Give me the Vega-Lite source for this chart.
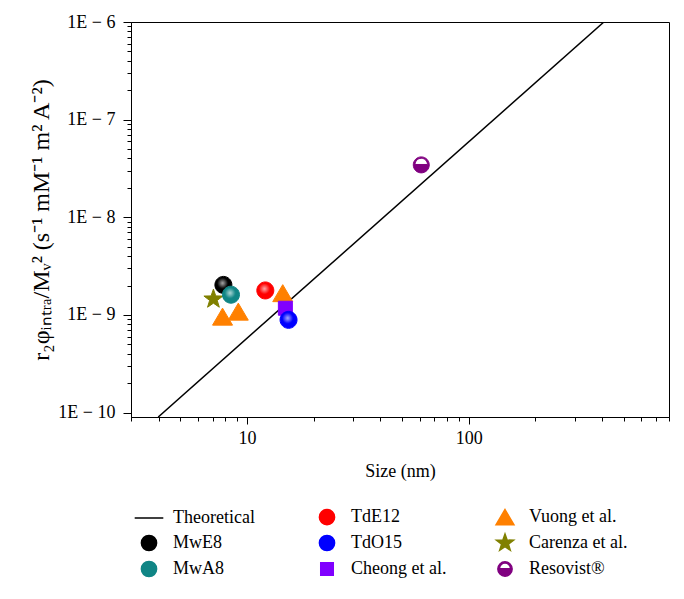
{
  "$schema": "https://vega.github.io/schema/vega-lite/v6.json",
  "width": 538,
  "height": 395,
  "autosize": {"type": "none"},
  "padding": {"left": 131, "top": 22, "right": 15, "bottom": 182},
  "background": "white",
  "config": {
    "view": {"stroke": "black", "strokeWidth": 1},
    "font": "Liberation Serif, Times New Roman, serif",
    "legend": {"labelFont": "Liberation Serif, Times New Roman, serif", "labelFontSize": 18, "labelColor": "black"}
  },
  "datasets": {
    "theory": [
      {"d": 3.98, "r": 9e-11},
      {"d": 407, "r": 1e-6}
    ],
    "points": [
      {"series": "Carenza et al.", "d": 7.06, "r": 1.45e-9},
      {"series": "MwE8", "d": 7.83, "r": 2.03e-9},
      {"series": "MwA8", "d": 8.47, "r": 1.61e-9},
      {"series": "Vuong et al.", "d": 7.76, "r": 9.6e-10},
      {"series": "Vuong et al.", "d": 9.14, "r": 1.08e-9},
      {"series": "Vuong et al.", "d": 14.5, "r": 1.67e-9},
      {"series": "TdE12", "d": 12.1, "r": 1.78e-9},
      {"series": "Cheong et al.", "d": 14.9, "r": 1.17e-9},
      {"series": "TdO15", "d": 15.4, "r": 8.9e-10},
      {"series": "Resovist®", "d": 61.1, "r": 3.44e-8}
    ]
  },
  "encoding": {
    "x": {
      "field": "d",
      "type": "quantitative",
      "scale": {"type": "log", "domain": [3, 800], "nice": false, "zero": false},
      "axis": {
        "title": "Size (nm)",
        "values": [3, 4, 5, 6, 7, 8, 9, 10, 20, 30, 40, 50, 60, 70, 80, 90, 100, 200, 300, 400, 500, 600, 700, 800],
        "labelExpr": "datum.value == 10 || datum.value == 100 ? datum.value + '' : ''",
        "tickSize": {"condition": {"test": "datum.value == 10 || datum.value == 100", "value": 7}, "value": 4},
        "grid": false,
        "labelOverlap": false,
        "labelFlush": false,
        "labelFont": "Liberation Serif, Times New Roman, serif",
        "labelFontSize": 18,
        "labelColor": "black",
        "labelPadding": 5,
        "titleFont": "Liberation Serif, Times New Roman, serif",
        "titleFontSize": 18,
        "titleFontWeight": "normal",
        "titleColor": "black",
        "titlePadding": 15,
        "domainColor": "black",
        "tickColor": "black"
      }
    },
    "y": {
      "field": "r",
      "type": "quantitative",
      "scale": {"type": "log", "domain": [9e-11, 1e-6], "nice": false, "zero": false},
      "axis": {
        "title": "r₂φᵢₙₜᵣₐ/Mᵥ² (s⁻¹ mM⁻¹ m² A⁻²)",
        "values": [1e-10, 2e-10, 3e-10, 4e-10, 5e-10, 6e-10, 7e-10, 8e-10, 9e-10, 1e-9, 2e-9, 3e-9, 4e-9, 5e-9, 6e-9, 7e-9, 8e-9, 9e-9, 1e-8, 2e-8, 3e-8, 4e-8, 5e-8, 6e-8, 7e-8, 8e-8, 9e-8, 1e-7, 2e-7, 3e-7, 4e-7, 5e-7, 6e-7, 7e-7, 8e-7, 9e-7, 1e-6],
        "labelExpr": "abs(log(datum.value)/LN10 - round(log(datum.value)/LN10)) < 0.0001 ? '1E − ' + round(-log(datum.value)/LN10) : ''",
        "tickSize": {"condition": {"test": "abs(log(datum.value)/LN10 - round(log(datum.value)/LN10)) < 0.0001", "value": 8}, "value": 4},
        "grid": false,
        "labelOverlap": false,
        "labelFlush": false,
        "labelFont": "Liberation Serif, Times New Roman, serif",
        "labelFontSize": 18,
        "labelColor": "black",
        "labelPadding": 8,
        "titleFont": "Liberation Serif, Times New Roman, serif",
        "titleFontSize": 24,
        "titleFontWeight": "normal",
        "titleColor": "black",
        "titlePadding": 4,
        "domainColor": "black",
        "tickColor": "black"
      }
    }
  },
  "layer": [
    {
      "data": {"name": "theory"},
      "mark": {"type": "line", "color": "black", "strokeWidth": 1.5, "clip": true}
    },
    {
      "data": {"name": "points"},
      "mark": {"type": "point", "filled": true, "opacity": 1, "strokeWidth": 1, "size": 400},
      "encoding": {
        "fill": {
          "field": "series",
          "type": "nominal",
          "scale": {
            "domain": ["Theoretical", "MwE8", "MwA8", "TdE12", "TdO15", "Cheong et al.", "Vuong et al.", "Carenza et al.", "Resovist®"],
            "range": ["#000000", "#000000", "#108585", "#ff0000", "#0000ff", "#8000ff", "#ff8000", "#808000", "#800080"]
          },
          "legend": {
            "orient": "none",
            "legendX": 8,
            "legendY": 485,
            "columns": 3,
            "title": null,
            "labelFont": "Liberation Serif, Times New Roman, serif",
            "labelFontSize": 18,
            "labelColor": "black",
            "symbolSize": 320,
            "symbolStrokeWidth": 1.5,
            "symbolOpacity": 1,
            "columnPadding": 43,
            "rowPadding": 3,
            "labelOffset": 14,
            "gridAlign": "all"
          }
        },
        "stroke": {
          "field": "series",
          "type": "nominal",
          "scale": {
            "domain": ["Theoretical", "MwE8", "MwA8", "TdE12", "TdO15", "Cheong et al.", "Vuong et al.", "Carenza et al.", "Resovist®"],
            "range": ["#000000", "#000000", "#108585", "#ff0000", "#0000ff", "#8000ff", "#ff8000", "#808000", "#800080"]
          }
        },
        "shape": {
          "field": "series",
          "type": "nominal",
          "scale": {
            "domain": ["Theoretical", "MwE8", "MwA8", "TdE12", "TdO15", "Cheong et al.", "Vuong et al.", "Carenza et al.", "Resovist®"],
            "range": [
              "M-1.6,0L1.6,0",
              "M-0.85,0A0.85,0.85 0 1,1 0.85,0A0.85,0.85 0 1,1 -0.85,0Z",
              "M-0.85,0A0.85,0.85 0 1,1 0.85,0A0.85,0.85 0 1,1 -0.85,0Z",
              "M-0.85,0A0.85,0.85 0 1,1 0.85,0A0.85,0.85 0 1,1 -0.85,0Z",
              "M-0.85,0A0.85,0.85 0 1,1 0.85,0A0.85,0.85 0 1,1 -0.85,0Z",
              "M-0.7,-0.7L0.7,-0.7L0.7,0.7L-0.7,0.7Z",
              "M0,-0.85L1,0.85L-1,0.85Z",
              "M0,-1L0.235,-0.324L0.951,-0.309L0.38,0.124L0.588,0.809L0,0.4L-0.588,0.809L-0.38,0.124L-0.951,-0.309L-0.235,-0.324Z",
              "M-0.8,0A0.8,0.8 0 1,1 0.8,0A0.8,0.8 0 1,1 -0.8,0Z M-0.62,-0.04L0.62,-0.04A0.62,0.62 0 0,0 -0.62,-0.04Z"
            ]
          }
        }
      }
    },
    {
      "data": {"name": "points"},
      "transform": [{"filter": {"field": "series", "oneOf": ["MwE8", "MwA8", "TdE12", "TdO15"]}}],
      "mark": {
        "type": "point",
        "filled": true,
        "shape": "circle",
        "size": 289,
        "strokeOpacity": 0,
        "fill": {
          "gradient": "radial",
          "x1": 0.45, "y1": 0.4, "r1": 0,
          "x2": 0.45, "y2": 0.4, "r2": 0.32,
          "stops": [
            {"offset": 0, "color": "rgba(255,255,255,0.95)"},
            {"offset": 1, "color": "rgba(255,255,255,0)"}
          ]
        }
      }
    }
  ]
}
